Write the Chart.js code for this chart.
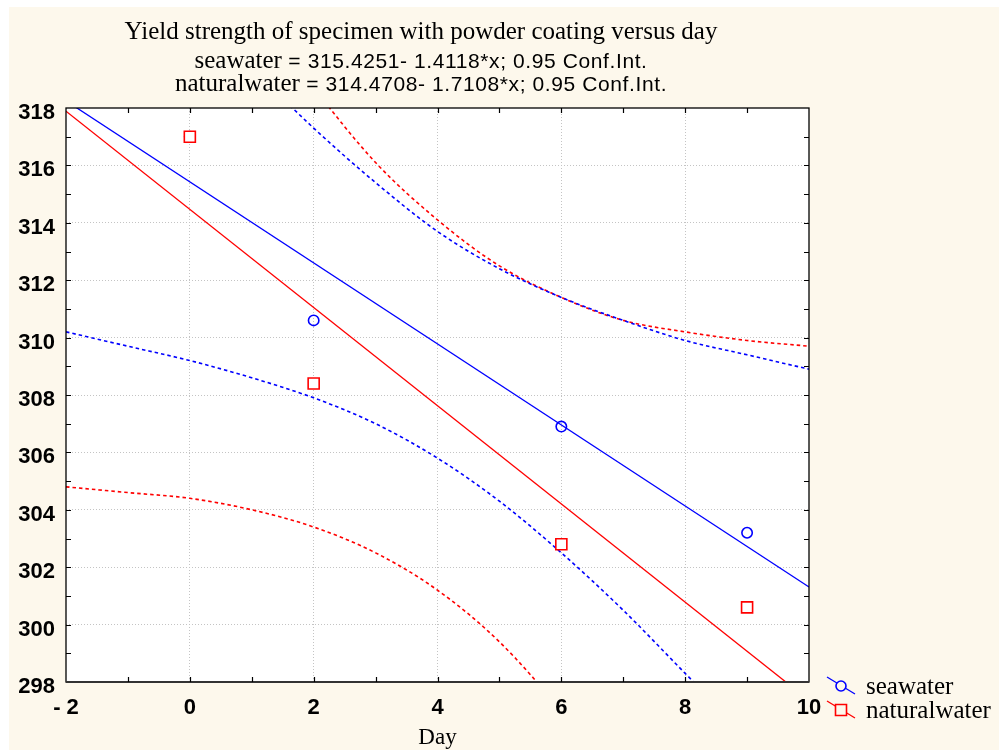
<!DOCTYPE html>
<html><head><meta charset="utf-8">
<script src="https://cdn.jsdelivr.net/npm/chart.js@4.4.0/dist/chart.umd.min.js"></script>
<style>html,body{margin:0;padding:0;background:#fff;}canvas{display:block;}</style>
</head><body>
<canvas id="c" width="999" height="750"></canvas>
<script>
// ---- text ----
const titleText = 'Yield strength of specimen with powder coating versus day';
const seriesNames = ['seawater', 'naturalwater'];
const equationTexts = [' = 315.4251- 1.4118*x; 0.95 Conf.Int.', ' = 314.4708- 1.7108*x; 0.95 Conf.Int.'];
const xAxisTitle = 'Day';

// ---- observed points ----
const days = [0, 2, 6, 9];
const seawater = [317.0, 310.6, 306.9, 303.2];
const naturalwater = [317.0, 308.4, 302.8, 300.6];

// ---- fitted lines (ends) ----
const fitDays = [-2, 10];
const seawaterFit = [318.25, 301.31];
const naturalwaterFit = [317.89, 297.36];

// ---- 0.95 confidence bands, read at each day ----
const bandDays = [-2, -1, 0, 1, 2, 3, 4, 5, 6, 7, 8, 9, 10];
const seawaterUpper = [326.3, 324.0, 321.6, 319.4, 317.3, 315.4, 313.7, 312.4, 311.4, 310.6, 309.9, 309.4, 308.9];
const seawaterLower = [310.2, 309.7, 309.2, 308.6, 307.9, 307.0, 305.8, 304.3, 302.5, 300.5, 298.3, 296.1, 293.7];
const naturalUpper = [331.0, 327.7, 324.6, 321.5, 318.7, 316.1, 314.1, 312.5, 311.4, 310.6, 310.2, 309.9, 309.7];
const naturalLower = [304.8, 304.6, 304.4, 304.0, 303.4, 302.5, 301.2, 299.4, 297.0, 294.3, 291.4, 288.3, 285.0];

// ---- axis ----
const xMin = -2, xMax = 10, yMin = 298, yMax = 318;

const BLUE = '#0000ff', RED = '#ff0000', BEIGE = '#fdf8ec';
const pts = (xs, ys) => xs.map((x, i) => ({ x: x, y: ys[i] }));

const lineDs = (xs, ys, color, dash) => ({
  type: 'line', data: pts(xs, ys), borderColor: color, borderWidth: dash ? 1.6 : 1.3,
  borderDash: dash || [], pointRadius: 0, fill: false, cubicInterpolationMode: 'monotone', order: 5
});

const datasets = [
  { type: 'scatter', label: seriesNames[1], data: pts(days, naturalwater), showLine: false,
    pointStyle: 'rect', pointRadius: 7.8, pointBorderColor: RED, pointBackgroundColor: '#ffffff', pointBorderWidth: 1.6, order: 0 },
  { type: 'scatter', label: seriesNames[0], data: pts(days, seawater), showLine: false,
    pointStyle: 'circle', pointRadius: 5.2, pointBorderColor: BLUE, pointBackgroundColor: 'rgba(0,0,0,0)', pointBorderWidth: 1.6, order: 1 },
  lineDs(fitDays, seawaterFit, BLUE),
  lineDs(fitDays, naturalwaterFit, RED),
  lineDs(bandDays, seawaterUpper, BLUE, [3.5, 3]),
  lineDs(bandDays, seawaterLower, BLUE, [3.5, 3]),
  lineDs(bandDays, naturalUpper, RED, [3.5, 3]),
  lineDs(bandDays, naturalLower, RED, [3.5, 3])
];

const legendItems = [
  { name: seriesNames[0], color: BLUE, marker: 'circle' },
  { name: seriesNames[1], color: RED, marker: 'rect' }
];

const tickFont = { family: '"Liberation Sans", Arial, sans-serif', size: 22, weight: 'bold' };

const decor = {
  id: 'decor',
  beforeDraw(chart) {
    const { ctx, chartArea: a } = chart;
    ctx.save();
    ctx.fillStyle = '#ffffff';
    ctx.fillRect(0, 0, chart.width, chart.height);
    ctx.fillStyle = BEIGE;
    ctx.fillRect(9, 7, chart.width - 9, chart.height - 7);
    ctx.fillStyle = '#ffffff';
    ctx.fillRect(a.left, a.top, a.right - a.left, a.bottom - a.top);
    ctx.restore();
  },
  afterDraw(chart) {
    const { ctx, chartArea: a } = chart;
    const xs = chart.scales.x, ys = chart.scales.y;
    ctx.save();
    // frame
    ctx.strokeStyle = '#000';
    ctx.lineWidth = 1.3;
    ctx.strokeRect(a.left, a.top, a.right - a.left, a.bottom - a.top);
    ctx.strokeStyle = '#333';
    ctx.lineWidth = 2;
    ctx.beginPath(); ctx.moveTo(a.left, a.bottom); ctx.lineTo(a.right, a.bottom); ctx.stroke();
    // inward ticks
    ctx.strokeStyle = '#000';
    ctx.lineWidth = 1.2;
    const L = 5;
    ctx.beginPath();
    for (let v = xMin + 1; v < xMax; v++) {
      const px = Math.round(xs.getPixelForValue(v)) + 0.5;
      ctx.moveTo(px, a.bottom); ctx.lineTo(px, a.bottom - L);
      ctx.moveTo(px, a.top); ctx.lineTo(px, a.top + L);
    }
    for (let v = yMin + 1; v < yMax; v++) {
      const py = Math.round(ys.getPixelForValue(v)) + 0.5;
      ctx.moveTo(a.left, py); ctx.lineTo(a.left + L, py);
      ctx.moveTo(a.right, py); ctx.lineTo(a.right - L, py);
    }
    ctx.stroke();

    // titles
    const cx = 421;
    const serif = '25px "Liberation Serif", "Times New Roman", serif';
    const sans = '21px "Liberation Sans", Arial, sans-serif';
    const sp = '0.6px';
    ctx.fillStyle = '#000';
    ctx.textBaseline = 'alphabetic';
    ctx.textAlign = 'left';
    ctx.font = serif;
    const w1 = ctx.measureText(titleText).width;
    ctx.fillText(titleText, cx - w1 / 2, 39);
    const baselines = [68, 91];
    for (let i = 0; i < 2; i++) {
      ctx.font = serif;
      ctx.letterSpacing = '0px';
      const ws = ctx.measureText(seriesNames[i]).width;
      ctx.font = sans;
      ctx.letterSpacing = sp;
      const we = ctx.measureText(equationTexts[i]).width;
      const x0 = cx - (ws + we) / 2;
      ctx.font = serif;
      ctx.letterSpacing = '0px';
      ctx.fillText(seriesNames[i], x0, baselines[i]);
      ctx.font = sans;
      ctx.letterSpacing = sp;
      ctx.fillText(equationTexts[i], x0 + ws, baselines[i]);
      ctx.letterSpacing = '0px';
    }

    // legend
    legendItems.forEach((it, i) => {
      const yc = 686 + 24 * i;
      const mx = 841;
      ctx.strokeStyle = it.color;
      ctx.lineWidth = 1.3;
      ctx.beginPath(); ctx.moveTo(827, yc - 9); ctx.lineTo(855, yc + 8); ctx.stroke();
      ctx.fillStyle = BEIGE;
      ctx.lineWidth = 1.6;
      ctx.beginPath();
      if (it.marker === 'circle') ctx.arc(mx, yc, 5, 0, Math.PI * 2);
      else ctx.rect(mx - 5.5, yc - 5.5, 11, 11);
      ctx.fill(); ctx.stroke();
      ctx.fillStyle = '#000';
      ctx.font = '25px "Liberation Serif", "Times New Roman", serif';
      ctx.fillText(it.name, 866, yc + 8);
    });
    ctx.restore();
  }
};

const gridColorX = (c) => {
  const v = c.tick && c.tick.value;
  return (v % 2 === 0 && v > xMin && v < xMax) ? '#c4c4c4' : 'rgba(0,0,0,0)';
};
const gridColorY = (c) => {
  const v = c.tick && c.tick.value;
  return (v % 2 === 0 && v > yMin && v < yMax) ? '#c4c4c4' : 'rgba(0,0,0,0)';
};

new Chart(document.getElementById('c'), {
  data: { datasets },
  options: {
    responsive: false, animation: false, devicePixelRatio: 1,
    layout: { padding: { left: 8, top: 108, right: 190, bottom: 0 } },
    plugins: { legend: { display: false }, title: { display: false }, tooltip: { enabled: false } },
    scales: {
      x: {
        type: 'linear', min: xMin, max: xMax,
        afterFit: (s) => { s.height = 68; },
        grid: { color: gridColorX, drawTicks: false, lineWidth: 1 },
        border: { display: false, dash: [1, 2] },
        ticks: {
          stepSize: 1, autoSkip: false, maxRotation: 0, padding: 13, color: '#000', font: tickFont,
          callback: (v) => (v % 2 !== 0 ? '' : (v < 0 ? '- ' + Math.abs(v) : String(v)))
        },
        title: { display: true, text: xAxisTitle, color: '#000',
          font: { family: '"Liberation Serif", "Times New Roman", serif', size: 23, lineHeight: 1 },
          padding: { top: 0, bottom: 1 } }
      },
      y: {
        type: 'linear', min: yMin, max: yMax,
        afterFit: (s) => { s.width = 58; },
        grid: { color: gridColorY, drawTicks: false, lineWidth: 1 },
        border: { display: false, dash: [1, 2] },
        ticks: {
          stepSize: 1, autoSkip: false, padding: 11, labelOffset: 5, color: '#000', font: tickFont,
          callback: (v) => (v % 2 !== 0 ? '' : String(v))
        }
      }
    }
  },
  plugins: [decor]
});
</script>
</body></html>
